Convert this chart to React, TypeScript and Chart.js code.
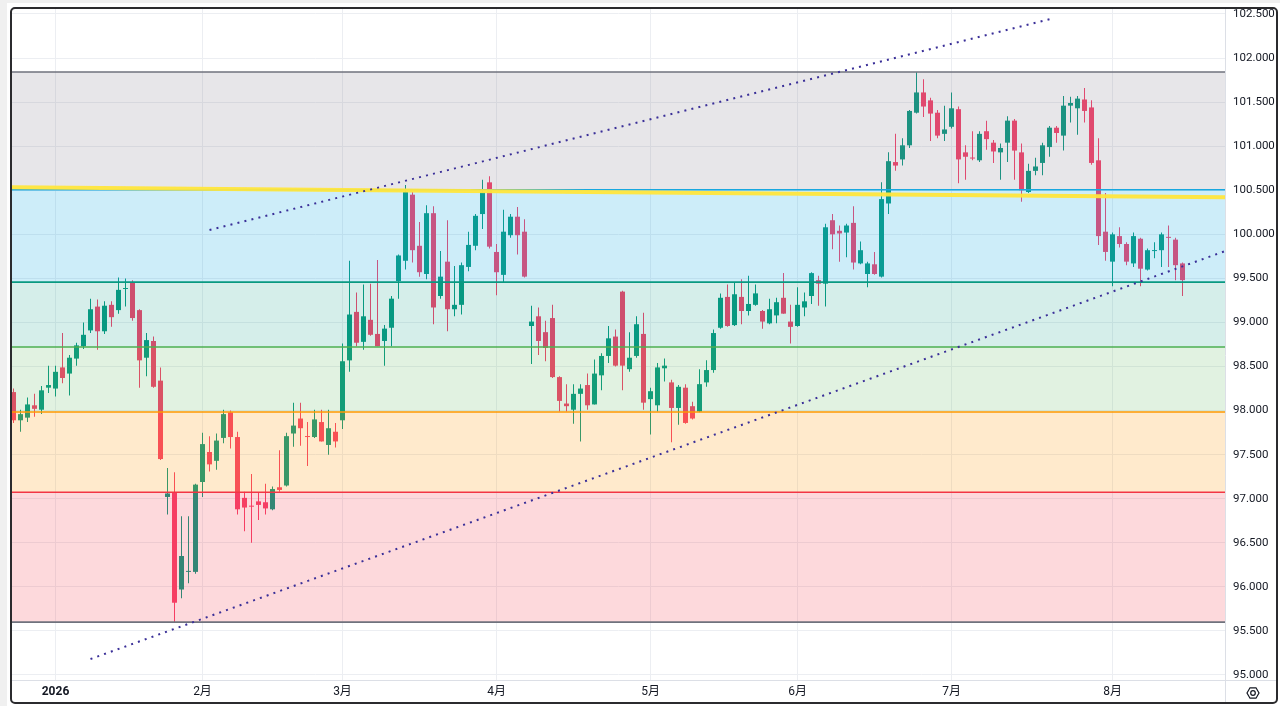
import React, { useEffect, useRef } from 'react';
import { Chart, registerables } from 'chart.js';

Chart.register(...registerables);

// ---- candle data (daily bars, index 0 = late Dec 2025) ----
const opens = [
  98.21, 97.89, 97.92, 98.06, 98.01, 98.26, 98.25, 98.49, 98.42, 98.59,
  98.73, 98.91, 99.18, 98.90, 99.20, 99.14, 99.38, 99.45, 99.14, 98.60,
  98.79, 98.34, 97.02, 97.07, 95.97, 96.17, 96.17, 97.19, 97.53, 97.43,
  97.69, 97.98, 97.70, 97.01, 96.92, 96.97, 96.96, 96.88, 97.13, 97.15,
  97.74, 97.91, 97.71, 97.70, 97.87, 97.61, 97.76, 97.89, 98.57, 99.12,
  98.78, 99.03, 98.87, 98.79, 98.94, 99.47, 99.70, 100.45, 99.87, 99.55,
  100.24, 99.30, 99.69, 99.15, 99.20, 99.63, 99.87, 100.23, 100.59, 99.80,
  99.54, 99.99, 100.20, 100.03, 98.96, 99.07, 98.89, 99.05, 98.38, 98.08,
  98.01, 98.19, 98.29, 98.07, 98.40, 98.62, 98.84, 99.35, 98.47, 98.62,
  98.87, 98.13, 98.06, 98.48, 98.32, 98.03, 98.26, 98.05, 97.99, 98.32,
  98.46, 98.94, 99.29, 98.97, 99.29, 99.13, 99.20, 99.13, 98.99, 99.08,
  99.28, 99.01, 98.96, 99.17, 99.30, 99.48, 99.44, 100.16, 100.04, 100.02,
  100.13, 99.67, 99.55, 99.66, 99.52, 100.35, 100.82, 100.85, 101.01, 101.38,
  101.61, 101.52, 101.38, 101.14, 101.22, 101.42, 100.93, 100.87, 100.84, 101.17,
  101.04, 100.93, 101.04, 101.29, 100.93, 100.48, 100.72, 100.81, 100.99, 101.21,
  101.12, 101.46, 101.43, 101.53, 101.44, 100.84, 100.03, 99.69, 99.98, 99.89,
  99.67, 99.95, 99.60, 99.81, 99.82, 99.97, 99.94, 99.67,
];
const highs = [
  98.25, 98.01, 98.15, 98.19, 98.28, 98.51, 98.51, 98.88, 98.63, 98.77,
  99.00, 99.27, 99.26, 99.24, 99.24, 99.51, 99.50, 99.48, 99.15, 98.88,
  98.84, 98.49, 97.35, 97.30, 96.80, 96.80, 97.17, 97.75, 97.71, 97.74,
  98.01, 98.00, 97.76, 97.08, 97.28, 97.07, 97.17, 97.14, 97.55, 97.75,
  98.09, 98.09, 97.87, 98.01, 98.01, 98.01, 97.86, 98.76, 99.70, 99.34,
  99.43, 99.44, 99.71, 98.97, 99.30, 99.77, 100.56, 100.48, 100.14, 100.33,
  100.32, 99.81, 100.16, 99.64, 99.68, 100.03, 100.23, 100.62, 100.66, 99.89,
  100.28, 100.23, 100.31, 100.17, 99.19, 99.17, 99.02, 99.20, 98.39, 98.30,
  98.30, 98.30, 98.42, 98.58, 98.65, 98.96, 98.92, 99.36, 98.89, 99.07,
  99.11, 98.26, 98.54, 98.59, 98.35, 98.29, 98.30, 98.10, 98.47, 98.57,
  98.92, 99.33, 99.43, 99.45, 99.49, 99.53, 99.43, 99.14, 99.27, 99.28,
  99.56, 99.20, 99.40, 99.34, 99.57, 99.53, 100.12, 100.23, 100.10, 100.12,
  100.32, 99.92, 99.69, 99.80, 100.59, 100.93, 101.14, 101.09, 101.41, 101.84,
  101.76, 101.55, 101.41, 101.46, 101.61, 101.45, 101.01, 101.17, 101.17, 101.29,
  101.07, 101.03, 101.34, 101.31, 101.03, 100.80, 100.87, 101.04, 101.23, 101.23,
  101.57, 101.56, 101.57, 101.66, 101.52, 101.09, 100.47, 100.02, 100.08, 99.91,
  100.02, 99.96, 99.84, 99.91, 100.02, 100.10, 99.96, 99.68,
];
const lows = [
  97.86, 97.76, 97.87, 97.93, 97.96, 98.20, 98.16, 98.31, 98.17, 98.51,
  98.70, 98.88, 98.69, 98.87, 98.95, 99.10, 99.18, 99.02, 98.26, 98.39,
  98.26, 97.44, 96.82, 95.59, 95.87, 96.04, 96.15, 97.02, 97.31, 97.33,
  97.63, 97.57, 96.82, 96.63, 96.50, 96.76, 96.82, 96.87, 97.08, 97.14,
  97.59, 97.60, 97.37, 97.69, 97.65, 97.50, 97.58, 97.79, 98.44, 98.73,
  98.69, 98.85, 98.73, 98.51, 98.73, 99.27, 99.60, 99.68, 99.52, 99.49,
  98.98, 99.27, 98.90, 99.07, 99.09, 99.58, 99.82, 100.06, 99.84, 99.31,
  99.46, 99.96, 99.77, 99.51, 98.53, 98.63, 98.56, 98.37, 97.99, 97.99,
  97.85, 97.65, 98.01, 98.07, 98.23, 98.54, 98.50, 98.23, 98.44, 98.60,
  98.01, 97.73, 97.99, 98.33, 97.64, 97.84, 97.85, 97.90, 97.98, 98.27,
  98.43, 98.93, 98.95, 98.96, 98.98, 99.08, 99.19, 98.93, 98.98, 98.99,
  99.10, 98.76, 98.95, 99.07, 99.21, 99.19, 99.18, 99.83, 99.69, 99.74,
  99.60, 99.66, 99.40, 99.54, 99.51, 100.23, 100.72, 100.78, 100.98, 101.37,
  101.33, 101.06, 101.09, 101.06, 101.20, 100.58, 100.62, 100.84, 100.82, 100.96,
  100.81, 100.62, 100.82, 100.62, 100.37, 100.47, 100.67, 100.67, 100.88, 101.04,
  100.95, 101.27, 101.13, 101.27, 100.79, 99.88, 99.70, 99.41, 99.85, 99.65,
  99.63, 99.41, 99.59, 99.73, 99.63, 99.63, 99.48, 99.30,
];
const closes = [
  97.89, 97.96, 98.07, 98.02, 98.23, 98.29, 98.44, 98.37, 98.60, 98.74,
  98.86, 99.15, 98.90, 99.19, 99.06, 99.37, 99.39, 99.05, 98.57, 98.80,
  98.27, 97.45, 97.06, 95.82, 96.35, 96.18, 97.16, 97.62, 97.39, 97.66,
  97.96, 97.70, 96.88, 96.90, 96.91, 96.93, 96.89, 97.11, 97.10, 97.71,
  97.83, 97.80, 97.70, 97.90, 97.65, 97.80, 97.65, 98.56, 99.09, 98.77,
  99.07, 98.86, 98.73, 98.93, 99.27, 99.76, 100.48, 99.82, 99.57, 100.24,
  99.17, 99.52, 99.15, 99.20, 99.65, 99.88, 100.21, 100.48, 99.86, 99.57,
  100.03, 100.20, 99.99, 99.52, 99.01, 98.79, 98.71, 98.38, 98.11, 98.05,
  98.19, 98.25, 98.06, 98.42, 98.62, 98.82, 98.51, 98.51, 98.60, 98.98,
  98.09, 98.22, 98.49, 98.51, 98.03, 98.27, 97.86, 97.91, 98.30, 98.46,
  98.88, 99.28, 98.96, 99.32, 99.13, 99.21, 99.33, 99.01, 99.15, 99.23,
  99.10, 98.95, 99.20, 99.24, 99.56, 99.44, 100.08, 100.00, 100.01, 100.10,
  99.68, 99.82, 99.67, 99.55, 100.40, 100.83, 100.78, 101.01, 101.40, 101.61,
  101.45, 101.37, 101.12, 101.19, 101.43, 100.85, 100.88, 100.86, 101.14, 101.08,
  100.94, 100.98, 101.29, 100.95, 100.50, 100.72, 100.77, 101.01, 101.21, 101.15,
  101.46, 101.49, 101.54, 101.40, 100.81, 99.98, 99.80, 100.00, 99.89, 99.69,
  99.98, 99.61, 99.82, 99.82, 100.00, 99.96, 99.65, 99.48,
];

// ---- axes ----
const monthTickIndex = [6, 27, 47, 69, 91, 112, 134, 157];
const monthTickLabels = ['2026', '2月', '3月', '4月', '5月', '6月', '7月', '8月'];
const priceTicks = [95, 95.5, 96, 96.5, 97, 97.5, 98, 98.5, 99, 99.5, 100, 100.5, 101, 101.5, 102, 102.5];

// ---- Fibonacci retracement (0, 0.236, 0.382, 0.5, 0.618, 0.786, 1) ----
const fibLevels = [95.6, 97.073, 97.984, 98.721, 99.458, 100.506, 101.842];
const fibLineColors = ['#6f727d', '#f23645', '#ff9800', '#4caf50', '#089981', '#18a7df', '#6f727d'];
const fibFillColors = [
  'rgba(0,0,0,0)',
  'rgba(242,54,69,0.19)',
  'rgba(255,152,0,0.2)',
  'rgba(76,175,80,0.17)',
  'rgba(8,153,129,0.17)',
  'rgba(20,170,225,0.21)',
  'rgba(120,118,134,0.18)',
];

// ---- drawings ----
const upperChannelX = [28.0, 148.1];
const upperChannelY = [100.05, 102.443];
const lowerChannelX = [11.0, 173.1];
const lowerChannelY = [95.181, 99.81];
const yellowLineX = [-0.3, 173.1];
const yellowLineY = [100.534, 100.42];

const X_MIN = -0.2143;
const X_MAX = 173.07;
const Y_MIN = 94.9432;
const Y_MAX = 102.5567;

const UP = '#089981';
const DOWN = '#f7406a';
const FONT = "Roboto, 'Noto Sans CJK JP', sans-serif";

const separators = {
  id: 'separators',
  afterDraw(chart: any) {
    const { ctx, chartArea, width, height } = chart;
    ctx.save();
    ctx.strokeStyle = '#dcdfe6';
    ctx.lineWidth = 1;
    ctx.beginPath();
    ctx.moveTo(0, Math.round(chartArea.bottom) + 0.5);
    ctx.lineTo(width, Math.round(chartArea.bottom) + 0.5);
    ctx.moveTo(Math.round(chartArea.right) + 0.5, 0);
    ctx.lineTo(Math.round(chartArea.right) + 0.5, height);
    ctx.stroke();
    ctx.restore();
  },
};

const zeroPadding = (s: any) => {
  s.paddingTop = 0;
  s.paddingBottom = 0;
  s.paddingLeft = 0;
  s.paddingRight = 0;
};

export default function App() {
  const ref = useRef<HTMLCanvasElement | null>(null);

  useEffect(() => {
    if (!ref.current) return;
    const idx = opens.map((_, i) => i);
    const colors = idx.map((i) => (closes[i] >= opens[i] ? UP : DOWN));

    const fibDatasets = fibLevels.map((lvl, k) => ({
      type: 'line' as const,
      data: [
        { x: X_MIN - 1, y: lvl },
        { x: X_MAX + 1, y: lvl },
      ],
      borderColor: fibLineColors[k],
      borderWidth: 1.6,
      pointRadius: 0,
      tension: 0,
      fill: k === 0 ? false : '-1',
      backgroundColor: fibFillColors[k],
      order: 10,
    }));

    const chart = new Chart(ref.current, {
      type: 'bar',
      data: {
        datasets: [
          {
            type: 'bar',
            data: idx.map((i) => ({ x: i, y: [lows[i], highs[i]] })),
            backgroundColor: colors,
            barThickness: 1,
            grouped: false,
            inflateAmount: 0,
            order: 30,
          } as any,
          {
            type: 'bar',
            data: idx.map((i) => ({ x: i, y: [opens[i], closes[i]] })),
            backgroundColor: colors,
            barThickness: 5,
            minBarLength: 1,
            grouped: false,
            inflateAmount: 0,
            order: 29,
          } as any,
          ...fibDatasets,
          {
            type: 'line',
            data: yellowLineX.map((x, k) => ({ x, y: yellowLineY[k] })),
            borderColor: 'rgba(255,230,60,0.95)',
            borderWidth: 4,
            pointRadius: 0,
            fill: false,
            order: 2,
          },
          {
            type: 'line',
            data: upperChannelX.map((x, k) => ({ x, y: upperChannelY[k] })),
            borderColor: '#3a2f98',
            borderWidth: 2,
            borderDash: [2, 5.2],
            pointRadius: 0,
            fill: false,
            order: 1,
          },
          {
            type: 'line',
            data: lowerChannelX.map((x, k) => ({ x, y: lowerChannelY[k] })),
            borderColor: '#3a2f98',
            borderWidth: 2,
            borderDash: [2, 5.2],
            pointRadius: 0,
            fill: false,
            order: 1,
          },
        ] as any,
      },
      options: {
        animation: false,
        responsive: false,
        maintainAspectRatio: false,
        events: [],
        layout: { padding: 0 },
        plugins: {
          legend: { display: false },
          tooltip: { enabled: false },
        },
        scales: {
          x: {
            type: 'linear',
            position: 'bottom',
            min: X_MIN,
            max: X_MAX,
            offset: false,
            afterBuildTicks: (s: any) => {
              s.ticks = monthTickIndex.map((v) => ({ value: v }));
            },
            afterFit: (s: any) => {
              s.height = 22;
              zeroPadding(s);
            },
            ticks: {
              autoSkip: false,
              maxRotation: 0,
              padding: 5,
              color: '#131722',
              font: (ctx: any) => ({
                family: FONT,
                size: 12,
                weight: ctx.tick && ctx.tick.value === monthTickIndex[0] ? 'bold' : 'normal',
              }),
              callback: (v: any) => {
                const k = monthTickIndex.indexOf(Number(v));
                return k >= 0 ? monthTickLabels[k] : '';
              },
            },
            grid: { color: '#eceef2', drawTicks: false, lineWidth: 1, offset: false },
            border: { display: false },
          },
          y: {
            type: 'linear',
            position: 'right',
            min: Y_MIN,
            max: Y_MAX,
            afterBuildTicks: (s: any) => {
              s.ticks = priceTicks.map((v) => ({ value: v }));
            },
            afterFit: (s: any) => {
              s.width = 51;
              zeroPadding(s);
            },
            ticks: {
              padding: 8,
              color: '#131722',
              font: { family: FONT, size: 11.5 },
              callback: (v: any) => Number(v).toFixed(3),
            },
            grid: { color: '#eceef2', drawTicks: false, lineWidth: 1 },
            border: { display: false },
          },
        },
      } as any,
      plugins: [separators],
    });
    return () => chart.destroy();
  }, []);

  return (
    <div style={{ position: 'fixed', left: 0, top: 0, width: 1280, height: 706, background: '#f0f0f0' }}>
      <div style={{ position: 'absolute', left: 7, top: 3, width: 1273, height: 703, background: '#ffffff' }} />
      <div
        style={{
          position: 'absolute',
          left: 10,
          top: 7,
          width: 1264,
          height: 693,
          border: '2px solid #2b2b2e',
          borderRadius: 5,
          overflow: 'hidden',
          background: '#ffffff',
        }}
      >
        <canvas ref={ref} width={1264} height={693} style={{ display: 'block', width: 1264, height: 693 }} />
        <svg
          width="18"
          height="18"
          viewBox="0 0 18 18"
          style={{ position: 'absolute', left: 1231.5, top: 674.5 }}
        >
          <polygon
            points="3,9 6,3.8 12,3.8 15,9 12,14.2 6,14.2"
            fill="none"
            stroke="#131722"
            strokeWidth="1.2"
          />
          <circle cx="9" cy="9" r="2.3" fill="none" stroke="#131722" strokeWidth="1.2" />
        </svg>
      </div>
    </div>
  );
}
